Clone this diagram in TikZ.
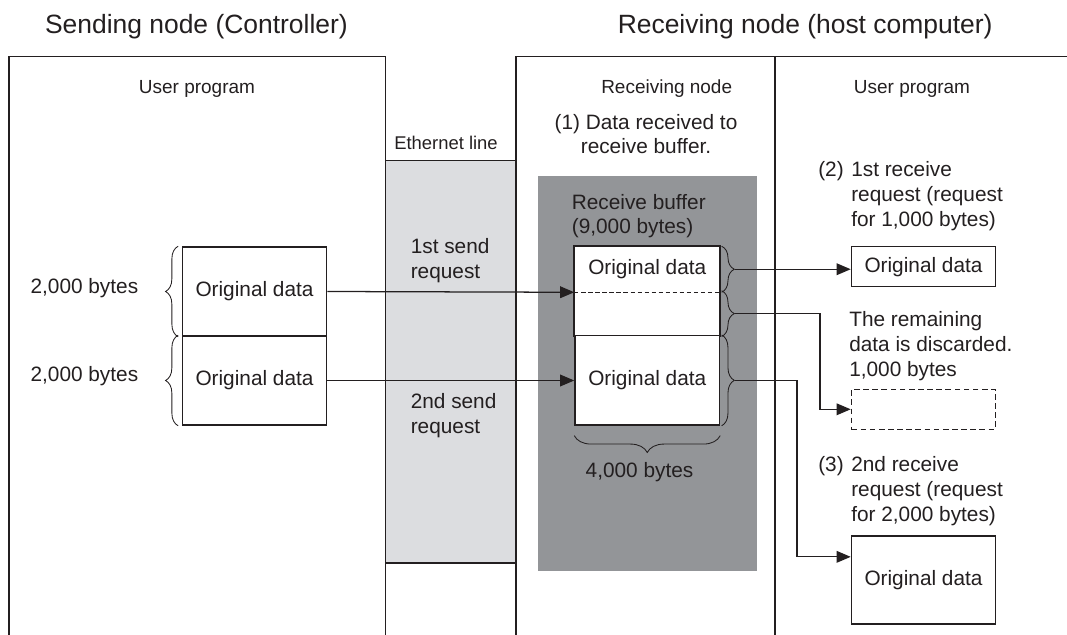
\documentclass[tikz,border=0pt]{standalone}
\usepackage{fontspec}
\setmainfont{Liberation Sans}
\usepackage{xcolor}
\usepackage{tikz}
\usetikzlibrary{arrows.meta, calc, decorations.pathreplacing}
\definecolor{inkblack}{RGB}{35, 31, 32}
\definecolor{ethergray}{RGB}{220, 221, 224}
\definecolor{buffergray}{RGB}{147, 149, 152}

\begin{document}
\begin{tikzpicture}[
    x=0.025cm, y=-0.025cm,
    font=\fontsize{14.8}{17.7}\selectfont,
    color=inkblack,
    title/.style={inner sep=0pt, anchor=base west, font=\fontsize{18.8}{22}\selectfont},
    heading/.style={inner sep=0pt, anchor=base, font=\fontsize{13.5}{16}\selectfont},
    txt/.style={inner sep=0pt, anchor=base west, align=left},
    frame/.style={line width=1.4pt},
    databox/.style={rectangle, draw, line width=1.1pt, fill=white,
                    minimum width=3.6cm, inner sep=0pt},
    flow/.style={-{Triangle[length=10pt, width=8.3pt]}, line width=0.9pt},
    curly/.style={decorate, decoration={brace, amplitude=#1}, line width=0.6pt}
]
\useasboundingbox (0,0) rectangle (1067,635);

% Frames
\draw[frame] (8.6,635) |- (385.5,56.5) -- (385.5,635);
\draw[frame] (516,635) |- (775,56.5) -- (775,635);
\draw[frame] (775,56.5) -- (1067,56.5);
\draw[frame, fill=ethergray] (385.5,160.5) rectangle (516,563);
\fill[buffergray] (538,176) rectangle (757,571);

% Titles
\node[title] (sendtitle) at (44.8,34) {Sending node (Controller)};
\node[title] (recvtitle) at (617.5,34) {Receiving node (host computer)};
\node[heading] (userleft) at (197,93.3) {User program};
\node[heading] (recvnode) at (666.7,93.3) {Receiving node};
\node[heading] (userright) at (912,93.3) {User program};
\node[txt, font=\fontsize{13.1}{16}\selectfont] (ethlabel) at (394,150) {Ethernet line};

% Sending side (multi-line texts sit on their last line)
\node[databox, minimum height=2.225cm] (srcA) at (254.5,291.5) {Original data};
\node[databox, minimum height=2.225cm] (srcB) at (254.5,380.5) {Original data};
\node[txt] (bytesA) at (30.3,293.3) {2,000 bytes};
\node[txt] (bytesB) at (30.3,381.7) {2,000 bytes};
\draw[curly=9pt] ([xshift=-2.5pt]srcA.south west) -- ([xshift=-2.5pt]srcA.north west);
\draw[curly=9pt] ([xshift=-2.5pt]srcB.south west) -- ([xshift=-2.5pt]srcB.north west);
\node[txt] (send1) at (410.5,278.3) {1st send\\request};
\node[txt] (send2) at (410.5,433.3) {2nd send\\request};

% Receive buffer
\node[txt, anchor=base, align=center] (step1) at (646,154) {(1) Data received to\\receive buffer.};
\node[txt] (bufname) at (571.6,234) {Receive buffer\\(9,000 bytes)};
\node[databox, draw=none, minimum width=3.61cm, minimum height=1.1125cm] (bufA) at (647.25,269.25) {Original data};
\node[databox, draw=none, minimum width=3.61cm, minimum height=1.105cm] (bufB) at (647.25,313.6) {};
\draw[line width=1.1pt] (bufA.north west) rectangle (bufB.south east);
\draw[line width=0.8pt, dash pattern=on 3pt off 2pt] (bufA.south west) -- (bufA.south east);
\node[databox, minimum width=3.61cm, minimum height=2.2325cm] (bufC) at (647.25,380.35) {Original data};
\draw[curly=9pt] ([xshift=1pt]bufA.north east) -- ([xshift=1pt]bufA.south east);
\draw[curly=9pt] ([xshift=1pt]bufB.north east) -- ([xshift=1pt]bufB.south east);
\draw[curly=9pt] ([xshift=1pt]bufC.north east) -- ([xshift=1pt]bufC.south east);
\draw[curly=12pt] ([yshift=-7pt]bufC.south east) -- ([yshift=-7pt]bufC.south west);
\node[txt, anchor=base] (total) at (639.5,478) {4,000 bytes};
\coordinate (tipA) at ([xshift=10.5pt]bufA.east);
\coordinate (tipB) at ([xshift=10.5pt]bufB.east);
\coordinate (tipC) at ([xshift=10.5pt]bufC.east);

% Receiving user program
\node[txt] (num2) at (818,176.7) {(2)};
\node[txt] (req2) at (851,226.7) {1st receive\\request (request\\for 1,000 bytes)};
\node[databox, minimum height=1cm] (outA) at (923.5,266.7) {Original data};
\node[txt] (discard) at (849,376.7) {The remaining\\data is discarded.\\1,000 bytes};
\node[databox, dash pattern=on 4pt off 2.5pt, minimum height=1cm] (outB) at (923.5,409.3) {};
\node[txt] (num3) at (818,471.7) {(3)};
\node[txt] (req3) at (851,521.7) {2nd receive\\request (request\\for 2,000 bytes)};
\node[databox, minimum height=2.2cm] (outC) at (923.5,579.9) {Original data};

% Arrows
\draw[flow] (srcA.east) -- (bufA.south west);
\draw[flow] (srcB.east) -- (srcB.east -| bufC.west);
\draw[flow] (tipA) -- (tipA -| outA.west);
\draw[flow] (tipB) -- ++(85,0) |- (outB.west);
\draw[flow] (tipC) -- ++(62,0) |- ([yshift=16.4pt]outC.west);

\end{tikzpicture}
\end{document}
